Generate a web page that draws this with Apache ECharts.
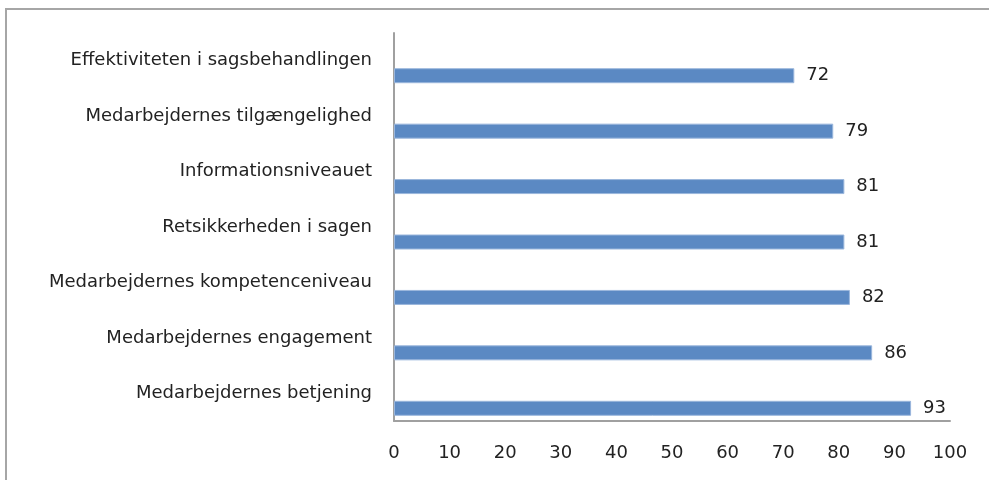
<!DOCTYPE html>
<html>
<head>
<meta charset="utf-8">
<script src="https://cdn.jsdelivr.net/npm/echarts@6/dist/echarts.min.js"></script>
<style>
html,body{margin:0;padding:0;background:#fff;}
#wrap{position:relative;width:989px;height:480px;overflow:hidden;}
#chart{position:absolute;left:0;top:0;width:989px;height:480px;}
#frame{position:absolute;left:5px;top:8px;width:1100px;height:600px;border-left:2px solid #a6a6a6;border-top:2px solid #a6a6a6;pointer-events:none;}
</style>
</head>
<body>
<div id="wrap"><div id="chart"></div><div id="frame"></div></div>
<script>
const categories = [
  "Effektiviteten i sagsbehandlingen",
  "Medarbejdernes tilgængelighed",
  "Informationsniveauet",
  "Retsikkerheden i sagen",
  "Medarbejdernes kompetenceniveau",
  "Medarbejdernes engagement",
  "Medarbejdernes betjening"
];
const values = [72, 79, 81, 81, 82, 86, 93];
const xTicks = [0, 10, 20, 30, 40, 50, 60, 70, 80, 90, 100];

const FONT = "DejaVu Sans";
const chart = echarts.init(document.getElementById('chart'), null, {renderer: 'canvas'});
chart.setOption({
  animation: false,
  backgroundColor: '#fff',
  grid: {left: 394, right: 39, top: 33, bottom: 59, containLabel: false},
  xAxis: {
    type: 'value', min: xTicks[0], max: xTicks[xTicks.length - 1], interval: 10,
    axisLine: {show: true, lineStyle: {color: '#a0a0a0', width: 2}},
    axisTick: {show: false},
    splitLine: {show: false},
    axisLabel: {margin: 23, fontFamily: FONT, fontSize: 18, color: '#222'}
  },
  yAxis: {
    type: 'category', data: categories, inverse: true,
    axisLine: {show: true, lineStyle: {color: '#a0a0a0', width: 2}},
    axisTick: {show: false},
    axisLabel: {margin: 22, fontFamily: FONT, fontSize: 18, color: '#222'}
  },
  series: [
    {type: 'bar', data: values.map(() => null), barWidth: 15, barGap: '100%', silent: true},
    {type: 'bar', data: values, barWidth: 15, barGap: '100%',
     itemStyle: {color: '#5b89c3', borderColor: '#9ab6dc', borderWidth: 1},
     label: {show: true, position: 'right', distance: 12, fontFamily: FONT, fontSize: 18, color: '#222'}}
  ]
});
</script>
</body>
</html>
